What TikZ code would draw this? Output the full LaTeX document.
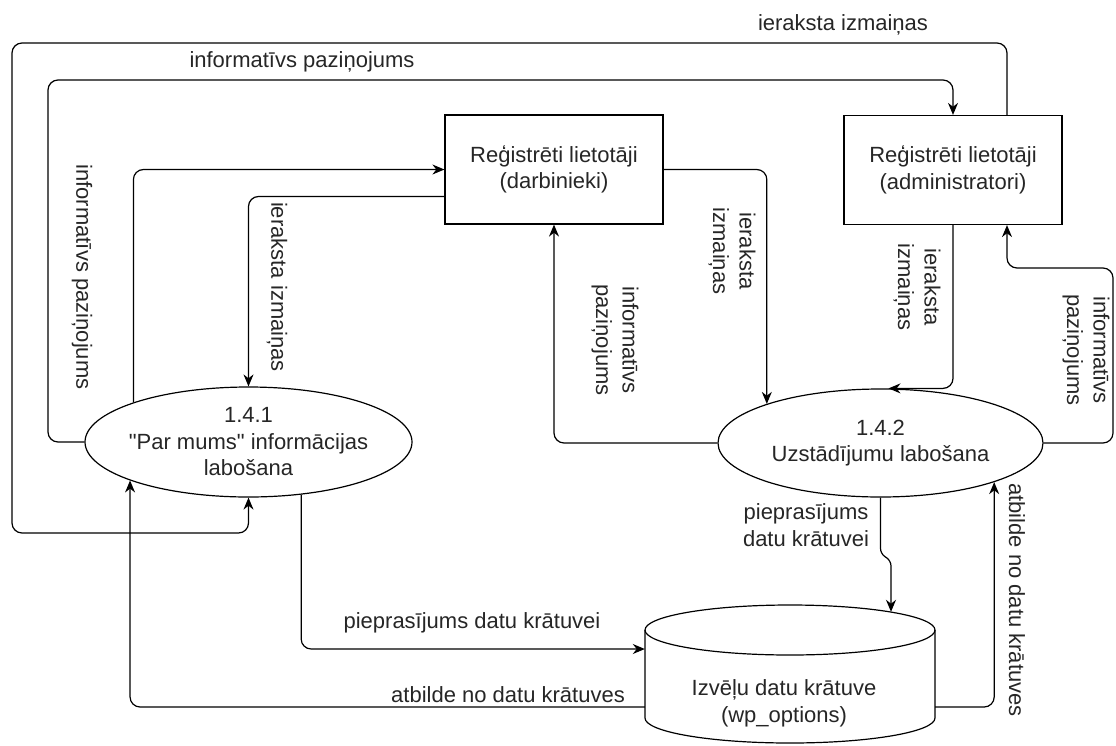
\documentclass[tikz,border=0pt]{standalone}
\usepackage{fontspec}
\setmainfont{Liberation Sans}
\usetikzlibrary{shapes.geometric,arrows.meta,calc}
\begin{document}
\begin{tikzpicture}[x=1pt,y=-1pt,
  lbl/.style={font=\fontsize{22}{26.5}\selectfont, text=black!85, align=center, inner sep=1pt},
  vlbl/.style={lbl, rotate=-90},
  box/.style={draw, line width=1.2pt, minimum width=218pt, minimum height=109pt, lbl},
  proc/.style={ellipse, draw, line width=1.2pt, lbl, inner xsep=-12pt, inner ysep=0pt},
  wire/.style={line width=1.2pt, rounded corners=10pt},
  flow/.style={wire, -{Stealth[length=12pt,width=10pt]}}
]
\useasboundingbox (0,0) rectangle (1116,745);

% shapes
\node[box] (d) at (554,169.5) {Reģistrēti lietotāji\\(darbinieki)};
\node[box] (a) at (953,170) {Reģistrēti lietotāji\\(administratori)};
\node[proc, minimum width=327pt, minimum height=110pt] (e1) at (248.5,442) {1.4.1\\\textquotedbl Par mums\textquotedbl{} informācijas\\labošana};
\node[proc, minimum width=325pt, minimum height=108pt] (e2) at (880.5,443) {1.4.2\\Uzstādījumu labošana};

% data store (cylinder)
\node[minimum width=290pt, minimum height=138pt, inner sep=0pt] (db) at (790,674) {};
\filldraw[fill=white, line width=1.2pt] (645,630) -- (645,718) arc[start angle=180, end angle=360, x radius=145pt, y radius=25pt] -- (935,630);
\draw[line width=1.2pt] (790,630) ellipse [x radius=145pt, y radius=25pt];
\node[lbl] (dbt) at (784,703.5) {Izvēļu datu krātuve\\(wp\_options)};

% connectors
\draw[flow] ($(a.north)+(54,0)$) |- (12,43) -- (12,533) -| (e1.south);
\draw[flow] (e1.west) -| (48,80) -| (a.north);
\draw[flow] (e1.161.4) |- (d.west);
\draw[flow] ($(d.west)+(0,27)$) -| (e1.north);
\draw[flow] (d.east) -| (e2.161.5);
\draw[flow] (e2.west) -| (d.south);
\draw[flow] (a.south) |- ($(e2.north)+(8,0)$);
\draw[flow] (e2.east) -| (1113,268) -| ($(a.south)+(54,0)$);
\draw[flow] (e1.315.8) |- ($(db.west)+(0,-25)$);
\draw[flow] ($(db.west)+(0,33)$) -| (e1.198.6);
\draw[wire, rounded corners=5pt, -{Stealth[length=12pt,width=10pt]}] (e2.south) -- ($(e2.south)+(0,56)$) -- ($(db.north)+(101,-44)$) -- ($(db.north)+(101,7)$);
\draw[flow] ($(db.east)+(0,33)$) -| (e2.341.8);

% labels
\node[lbl] (t1) at (843,25) {ieraksta izmaiņas};
\node[lbl] (t2) at (302,62) {informatīvs paziņojums};
\node[vlbl] (t3) at (82,277) {informatīvs paziņojums};
\node[vlbl] (t4) at (277,287) {ieraksta izmaiņas};
\node[vlbl] (t5) at (732,251) {ieraksta\\izmaiņas};
\node[vlbl] (t6) at (615,340) {informatīvs\\paziņojums};
\node[vlbl] (t7) at (917,287) {ieraksta\\izmaiņas};
\node[vlbl] (t8) at (1086,350) {informatīvs\\paziņojums};
\node[lbl] (t9) at (806,525) {pieprasījums\\datu krātuvei};
\node[vlbl] (t10) at (1017,600) {atbilde no datu krātuves};
\node[lbl] (t11) at (472,623) {pieprasījums datu krātuvei};
\node[lbl] (t12) at (508,695) {atbilde no datu krātuves};
\end{tikzpicture}
\end{document}
